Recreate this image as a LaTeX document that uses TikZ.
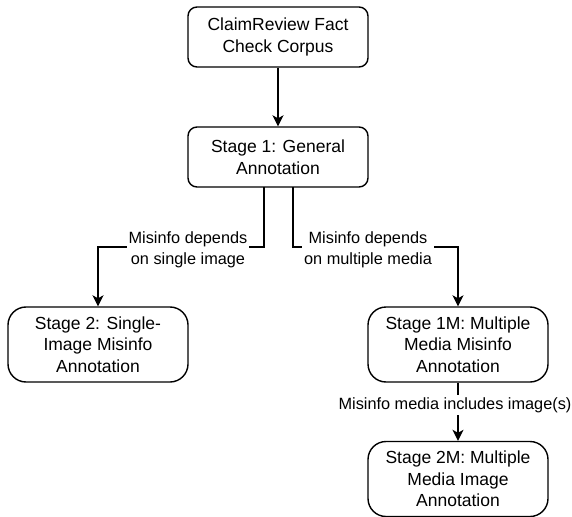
\documentclass[tikz,border=0pt]{standalone}
\usepackage{fontspec}
\setmainfont{Liberation Sans}
\usetikzlibrary{arrows.meta}
\begin{document}
\begin{tikzpicture}[x=1bp,y=-1bp,
  every node/.style={font=\fontsize{17.5bp}{21.6bp}\selectfont, align=center, inner sep=0pt},
  boxa/.style={draw, line width=1.4bp, rounded corners=9bp, minimum width=180bp, minimum height=60bp},
  boxb/.style={draw, line width=1.4bp, rounded corners=18bp, minimum width=180bp, minimum height=75bp},
  conn/.style={line width=1.4bp, -{Stealth[length=11bp,width=11bp,inset=3bp]}},
  lbl/.style={fill=white, inner sep=2bp, font=\fontsize{16.3bp}{20.5bp}\selectfont}]
\useasboundingbox (0,0) rectangle (572,517);
\node[boxa] (c) at (278,37) {ClaimReview Fact\\Check Corpus};
\node[boxa] (s1) at (278,157) {Stage 1: General\\Annotation};
\node[boxb] (s2) at (98,344.5) {Stage 2: Single-\\Image Misinfo\\Annotation};
\node[boxb] (s1m) at (458,344.5) {Stage 1M: Multiple\\Media Misinfo\\Annotation};
\node[boxb] (s2m) at (458,479) {Stage 2M: Multiple\\Media Image\\Annotation};
\coordinate (la) at (264,187);
\coordinate (ra) at (293,187);
\draw[conn] (c) -- (s1);
\draw[conn] (la) |- (98,247) -- (s2.north);
\draw[conn] (ra) |- (458,247) -- (s1m.north);
\draw[conn] (s1m) -- (s2m);
\node[lbl] (l1) at (188,250) {Misinfo depends\\on single image};
\node[lbl] (l2) at (368,250) {Misinfo depends\\on multiple media};
\node[lbl] (l3) at (455,405) {Misinfo media includes image(s)};
\end{tikzpicture}
\end{document}
